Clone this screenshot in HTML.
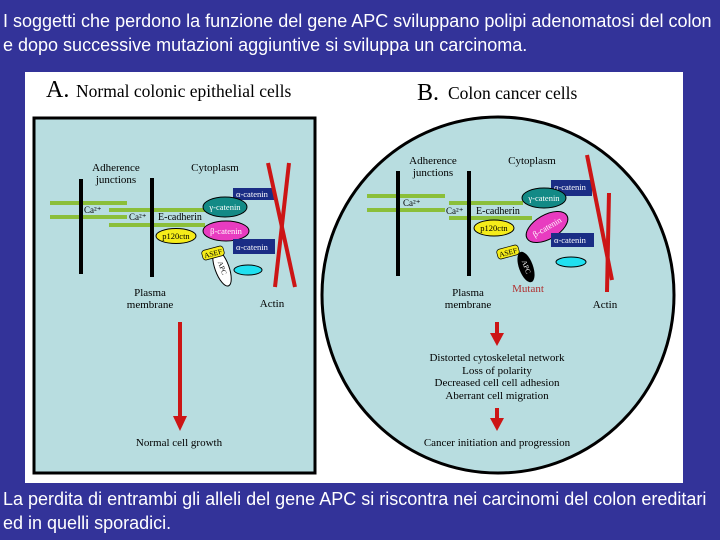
<!DOCTYPE html>
<html><head><meta charset="utf-8"><style>
body{margin:0;width:720px;height:540px;background:#333399;overflow:hidden;position:relative;font-family:"Liberation Sans",sans-serif;}
.t{position:absolute;left:3px;color:#fff;font-size:18px;line-height:24px;white-space:nowrap;}
svg{position:absolute;left:0;top:0;}
</style></head><body>
<div class="t" style="top:9px">I soggetti che perdono la funzione del gene APC sviluppano polipi adenomatosi del colon<br>e dopo successive mutazioni aggiuntive si sviluppa un carcinoma.</div>
<div class="t" style="top:487px">La perdita di entrambi gli alleli del gene APC si riscontra nei carcinomi del colon ereditari<br>ed in quelli sporadici.</div>
<svg width="720" height="540" font-family="Liberation Serif,serif" font-size="11">
<rect x="25" y="72" width="658" height="411" fill="#fff"/>
<text x="46" y="97" font-size="24">A.</text><text x="76" y="97" font-size="17.5">Normal colonic epithelial cells</text>
<text x="417" y="100" font-size="24">B.</text><text x="448" y="99" font-size="17.5">Colon cancer cells</text>
<rect x="34" y="118" width="281" height="355" fill="#b8dde0" stroke="#000" stroke-width="3"/>
<ellipse cx="498" cy="295" rx="176" ry="178" fill="#b8dde0" stroke="#000" stroke-width="3"/>
<!-- Panel A -->
<g fill="#8bbf3a"><rect x="50" y="201" width="77" height="4"/><rect x="50" y="215" width="77" height="4"/><rect x="109" y="208" width="96" height="4"/><rect x="109" y="223" width="96" height="4"/></g>
<rect x="79" y="179" width="4" height="95" fill="#000"/><rect x="150" y="178" width="4" height="99" fill="#000"/>
<text x="116" y="171" text-anchor="middle">Adherence</text><text x="116" y="183" text-anchor="middle">junctions</text>
<text x="215" y="171" text-anchor="middle">Cytoplasm</text>
<text x="84" y="213" font-size="9">Ca²⁺</text><text x="129" y="220" font-size="9">Ca²⁺</text><text x="158" y="220" font-size="10">E-cadherin</text>
<rect x="233" y="188" width="42" height="12" fill="#1a2d85"/><text x="236" y="197" fill="#fff" font-size="8.5">α-catenin</text>
<ellipse cx="225" cy="207" rx="22" ry="10" fill="#138a86" stroke="#000"/><text x="225" y="210" fill="#fff" font-size="8.5" text-anchor="middle">γ-catenin</text>
<ellipse cx="226" cy="231" rx="23" ry="10" fill="#e83cc0" stroke="#000"/><text x="226" y="234" fill="#fff" font-size="8.5" text-anchor="middle">β-catenin</text>
<ellipse cx="176" cy="236" rx="20" ry="7.5" fill="#f5ec1a" stroke="#000"/><text x="176" y="239" font-size="8.5" text-anchor="middle">p120ctn</text>
<rect x="233" y="239" width="42" height="15" fill="#1a2d85"/><text x="236" y="250" fill="#fff" font-size="8.5">α-catenin</text>
<ellipse cx="222" cy="268" rx="7" ry="19" transform="rotate(-20 222 268)" fill="#fff" stroke="#000"/><text x="222" y="270" font-size="7" text-anchor="middle" transform="rotate(70 222 268)">APC</text>
<rect x="202" y="248" width="22" height="10" rx="3" transform="rotate(-15 213 253)" fill="#f5ec1a" stroke="#000" stroke-width=".7"/><text x="213" y="256" font-size="7.5" text-anchor="middle" transform="rotate(-15 213 253)">ASEF</text>
<ellipse cx="248" cy="270" rx="14" ry="5" fill="#20e0f0" stroke="#000"/>
<g stroke="#cc1515" stroke-width="4"><line x1="268" y1="163" x2="295" y2="287"/><line x1="289" y1="163" x2="275" y2="287"/></g>
<text x="150" y="296" text-anchor="middle">Plasma</text><text x="150" y="308" text-anchor="middle">membrane</text>
<text x="272" y="307" text-anchor="middle">Actin</text>
<rect x="178" y="322" width="4" height="96" fill="#cc1515"/><polygon points="173,416 187,416 180,431" fill="#cc1515"/>
<text x="179" y="446" text-anchor="middle">Normal cell growth</text>
<!-- Panel B -->
<g fill="#8bbf3a"><rect x="367" y="194" width="78" height="4"/><rect x="367" y="208" width="78" height="4"/><rect x="449" y="201" width="74" height="4"/><rect x="449" y="216" width="83" height="4"/></g>
<rect x="396" y="171" width="4" height="105" fill="#000"/><rect x="467" y="171" width="4" height="105" fill="#000"/>
<text x="433" y="164" text-anchor="middle">Adherence</text><text x="433" y="176" text-anchor="middle">junctions</text>
<text x="532" y="164" text-anchor="middle">Cytoplasm</text>
<text x="403" y="206" font-size="9">Ca²⁺</text><text x="446" y="214" font-size="9">Ca²⁺</text><text x="476" y="214" font-size="10">E-cadherin</text>
<rect x="551" y="180" width="41" height="16" fill="#1a2d85"/><text x="554" y="190" fill="#fff" font-size="8.5">α-catenin</text>
<ellipse cx="544" cy="198" rx="22" ry="10" fill="#138a86" stroke="#000"/><text x="544" y="201" fill="#fff" font-size="8.5" text-anchor="middle">γ-catenin</text>
<ellipse cx="547" cy="227" rx="23" ry="12" transform="rotate(-30 547 227)" fill="#e83cc0" stroke="#000"/><text x="547" y="230" fill="#fff" font-size="8.5" text-anchor="middle" transform="rotate(-30 547 227)">β-catenin</text>
<ellipse cx="494" cy="228" rx="20" ry="8" fill="#f5ec1a" stroke="#000"/><text x="494" y="231" font-size="8.5" text-anchor="middle">p120ctn</text>
<rect x="551" y="233" width="43" height="14" fill="#1a2d85"/><text x="554" y="243" fill="#fff" font-size="8.5">α-catenin</text>
<ellipse cx="526" cy="267" rx="7" ry="16" transform="rotate(-20 526 267)" fill="#000"/><text x="526" y="269" fill="#fff" font-size="7" text-anchor="middle" transform="rotate(70 526 267)">APC</text>
<rect x="497" y="247" width="22" height="10" rx="3" transform="rotate(-15 508 252)" fill="#f5ec1a" stroke="#000" stroke-width=".7"/><text x="508" y="255" font-size="7.5" text-anchor="middle" transform="rotate(-15 508 252)">ASEF</text>
<text x="528" y="292" fill="#b03030" text-anchor="middle">Mutant</text>
<ellipse cx="571" cy="262" rx="15" ry="5" fill="#20e0f0" stroke="#000"/>
<g stroke="#cc1515" stroke-width="4"><line x1="587" y1="155" x2="612" y2="280"/><line x1="609" y1="193" x2="607" y2="292"/></g>
<text x="468" y="296" text-anchor="middle">Plasma</text><text x="468" y="308" text-anchor="middle">membrane</text>
<text x="605" y="308" text-anchor="middle">Actin</text>
<rect x="495" y="322" width="4" height="13" fill="#cc1515"/><polygon points="490,333 504,333 497,346" fill="#cc1515"/>
<text x="497" y="361" text-anchor="middle">Distorted cytoskeletal network</text>
<text x="497" y="374" text-anchor="middle">Loss of polarity</text>
<text x="497" y="386" text-anchor="middle">Decreased cell cell adhesion</text>
<text x="497" y="399" text-anchor="middle">Aberrant cell migration</text>
<rect x="495" y="408" width="4" height="12" fill="#cc1515"/><polygon points="490,418 504,418 497,431" fill="#cc1515"/>
<text x="497" y="446" text-anchor="middle">Cancer initiation and progression</text>
</svg>
</body></html>
